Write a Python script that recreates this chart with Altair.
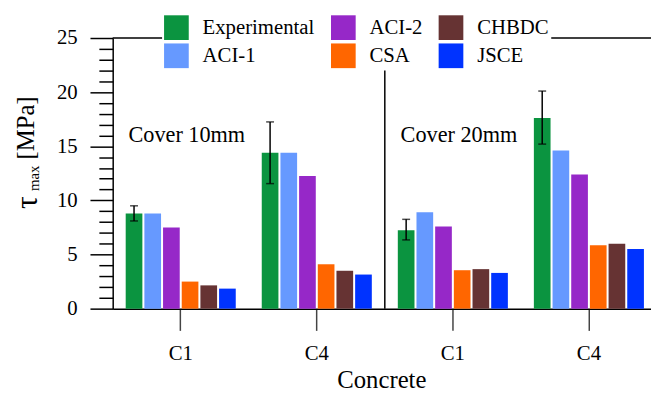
import altair as alt
import pandas as pd

FONT = "Liberation Serif"

groups = ["10-C1", "10-C4", "20-C1", "20-C4"]
series = ["Experimental", "ACI-1", "ACI-2", "CSA", "CHBDC", "JSCE"]
series_colors = ["#0B9440", "#6699FF", "#9628C8", "#FF6600", "#663333", "#0033FF"]

values = {
    "Experimental": [8.8, 14.4, 7.25, 17.6],
    "ACI-1": [8.8, 14.4, 8.9, 14.6],
    "ACI-2": [7.5, 12.25, 7.6, 12.4],
    "CSA": [2.5, 4.1, 3.55, 5.85],
    "CHBDC": [2.15, 3.5, 3.65, 6.0],
    "JSCE": [1.85, 3.15, 3.3, 5.5],
}
err_low = [8.1, 11.55, 6.35, 15.2]
err_high = [9.5, 17.25, 8.25, 20.1]

major_ticks = [0, 5, 10, 15, 20, 25]
minor_ticks = [v for v in range(0, 26) if v % 5 != 0]

panel_titles = ["Cover 10mm", "Cover 20mm"]
panel_start = ["10-C1", "20-C1"]

rows = []
for s in series:
    for g, v in zip(groups, values[s]):
        rows.append({"group": g, "series": s, "value": v})
df = pd.DataFrame(rows)
edf = pd.DataFrame({"group": groups, "series": ["Experimental"] * 4,
                    "low": err_low, "high": err_high})

W, H = 545, 274
# the original plot runs a little past the right edge of the picture
xscale = alt.Scale(domain=groups, paddingInner=0, paddingOuter=0, range=[0, 551])
offscale = alt.Scale(domain=series, paddingInner=0.107, paddingOuter=0.696)
yscale = alt.Scale(domain=[0, 25], nice=False)

x_axis = alt.Axis(
    title="Concrete", labelExpr="split(datum.value, '-')[1]", labelAngle=0,
    tickSize=22, tickColor="#444", tickWidth=1.5, labelPadding=12,
    labelFont=FONT, titleFont=FONT,
    labelFontSize=21, titleFontSize=25, titlePadding=5, titleX=272,
    domainColor="black", domainWidth=1.5,
)
y_axis = alt.Axis(
    orient="left", title=None, values=major_ticks, tickCount=30,
    labelOverlap=False, tickSize=23,
    tickColor="black", tickWidth=1.5, labelPadding=13, labelFontSize=21,
    labelFont=FONT, domainColor="black", domainWidth=1.5,
)
y_minor_axis = alt.Axis(
    orient="left", title=None, values=minor_ticks, tickCount=30,
    labels=False, domain=False, tickSize=14, tickColor="black", tickWidth=1.5,
)

bars = alt.Chart(df).mark_bar().encode(
    x=alt.X("group:N", scale=xscale, axis=x_axis),
    xOffset=alt.XOffset("series:N", scale=offscale),
    y=alt.Y("value:Q", scale=yscale, axis=y_axis),
    color=alt.Color(
        "series:N",
        scale=alt.Scale(domain=series, range=series_colors),
        legend=alt.Legend(
            title=None, orient="none", legendX=50, legendY=-25, columns=3,
            symbolType="square", symbolSize=625, symbolStrokeWidth=0,
            symbolOpacity=1, labelFont=FONT, labelFontSize=21,
            labelColor="black", labelOffset=14, rowPadding=3.5,
            columnPadding=16, fillColor="white", padding=2, zindex=1,
            labelLimit=300,
        ),
    ),
)

minor = alt.Chart(pd.DataFrame({"v": minor_ticks})).mark_point(opacity=0).encode(
    y=alt.Y("v:Q", scale=yscale, axis=y_minor_axis),
)

err = alt.Chart(edf).mark_rule(color="black", strokeWidth=1.5).encode(
    x=alt.X("group:N", scale=xscale),
    xOffset=alt.XOffset("series:N", scale=offscale),
    y=alt.Y("low:Q", scale=yscale, axis=None),
    y2="high:Q",
)
cap_hi = alt.Chart(edf).mark_tick(color="black", thickness=1.5, size=8).encode(
    x=alt.X("group:N", scale=xscale),
    xOffset=alt.XOffset("series:N", scale=offscale),
    y=alt.Y("high:Q", scale=yscale, axis=None),
)
cap_lo = alt.Chart(edf).mark_tick(color="black", thickness=1.5, size=8).encode(
    x=alt.X("group:N", scale=xscale),
    xOffset=alt.XOffset("series:N", scale=offscale),
    y=alt.Y("low:Q", scale=yscale, axis=None),
)

top_line = alt.Chart(pd.DataFrame({"y": [25]})).mark_rule(
    color="black", strokeWidth=1.5).encode(y=alt.Y("y:Q", scale=yscale, axis=None))

divider = alt.Chart(pd.DataFrame({"g": ["20-C1"]})).mark_rule(
    color="black", strokeWidth=1.5).encode(
    x=alt.X("g:N", scale=xscale, bandPosition=0))

cover = alt.Chart(pd.DataFrame({"t": panel_titles, "g": panel_start})).mark_text(
    align="left", baseline="alphabetic", font=FONT, fontSize=22.5, dx=16,
    color="black").encode(
    x=alt.X("g:N", scale=xscale, bandPosition=0),
    y=alt.value(105),
    text="t:N",
)

ytitle_main = alt.Chart(pd.DataFrame({"t": ["[MPa]"]})).mark_text(
    angle=270, align="left", baseline="alphabetic", font=FONT, fontSize=25,
    color="black").encode(x=alt.value(-80), y=alt.value(123), text="t:N")
ytitle_sub = alt.Chart(pd.DataFrame({"t": ["max"]})).mark_text(
    angle=270, align="left", baseline="alphabetic", font=FONT, fontSize=15,
    color="black").encode(x=alt.value(-75), y=alt.value(155), text="t:N")
ytitle_tau = alt.Chart(pd.DataFrame({"t": ["τ"]})).mark_text(
    angle=270, align="left", baseline="alphabetic", font=FONT, fontSize=32,
    color="black").encode(x=alt.value(-77), y=alt.value(173), text="t:N")

chart = alt.layer(
    bars, minor, err, cap_hi, cap_lo, top_line, divider, cover,
    ytitle_main, ytitle_sub, ytitle_tau,
).resolve_axis(y="independent").properties(
    width=W, height=H,
    autosize=alt.AutoSizeParams(type="none"),
    padding={"left": 106, "top": 28, "right": 0, "bottom": 82},
).configure_view(stroke=None).configure_axis(
    labelFont=FONT, titleFont=FONT, labelColor="black", titleColor="black",
    titleFontWeight="normal", grid=False,
)

chart.save("out.html", embed_options={"renderer": "svg", "actions": False})
